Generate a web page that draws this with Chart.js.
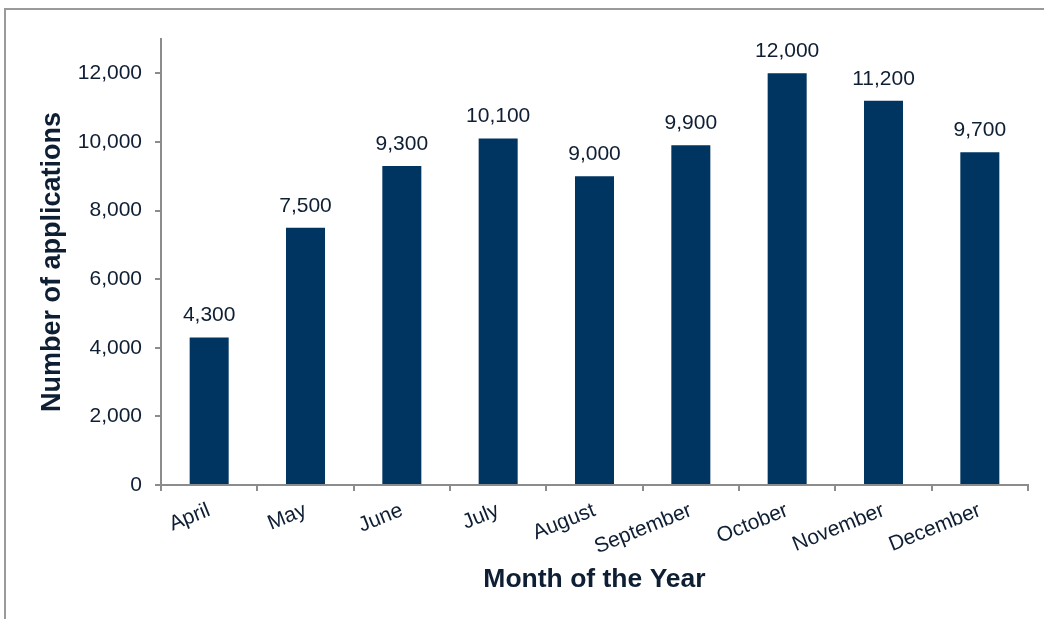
<!DOCTYPE html>
<html>
<head>
<meta charset="utf-8">
<script src="https://cdn.jsdelivr.net/npm/chart.js@4/dist/chart.umd.min.js"></script>
<style>
	body { margin: 0; background: #fff; overflow: hidden; }
	#wrap { position: relative; width: 1044px; height: 619px; }
	#frame {
		position: absolute; left: 4px; top: 8px; width: 1100px; height: 700px;
		border-left: 2px solid #9a9a9a; border-top: 2px solid #9a9a9a;
	}
	canvas { position: absolute; left: 0; top: 0; }
</style>
</head>
<body>
<div id="wrap">
	<div id="frame"></div>
	<canvas id="chart" width="1044" height="619"></canvas>
</div>
<script>
const months = ["April", "May", "June", "July", "August", "September", "October", "November", "December"];
const applications = [4300, 7500, 9300, 10100, 9000, 9900, 12000, 11200, 9700];
const yTicks = [0, 2000, 4000, 6000, 8000, 10000, 12000];

const textColor = "#0e1e33";
const axisColor = "#8c8c8c";
const barColor = "#003461";

Chart.defaults.font.family = '"Liberation Sans", Arial, sans-serif';
Chart.defaults.color = textColor;

// value labels above each bar
const barLabels = {
	id: "barLabels",
	afterDatasetsDraw(chart) {
		let ctx = chart.ctx;
		let meta = chart.getDatasetMeta(0);
		ctx.save();
		ctx.font = '21px "Liberation Sans", Arial, sans-serif';
		ctx.fillStyle = textColor;
		ctx.textAlign = "center";
		ctx.textBaseline = "alphabetic";
		meta.data.forEach((bar, i) => {
			ctx.fillText(applications[i].toLocaleString("en-US"), bar.x, bar.y - 16);
		});
		ctx.restore();
	}
};

let ctx = document.getElementById("chart").getContext("2d");
new Chart(ctx, {
	type: "bar",
	data: {
		labels: months,
		datasets: [{
			data: applications,
			backgroundColor: barColor,
			barPercentage: 0.405,
			categoryPercentage: 1.0
		}]
	},
	options: {
		responsive: false,
		animation: false,
		layout: { padding: { left: 0, right: 16, top: 39, bottom: 0 } },
		plugins: {
			legend: { display: false },
			tooltip: { enabled: false }
		},
		scales: {
			x: {
				grid: { drawOnChartArea: false, color: axisColor, lineWidth: 2, tickLength: 6 },
				border: { color: axisColor, width: 2 },
				ticks: { font: { size: 21 }, color: textColor, minRotation: 22, maxRotation: 22, padding: 7 },
				title: {
					display: true,
					text: "Month of the Year",
					color: textColor,
					font: { size: 26.5, weight: "bold" },
					padding: { top: 0, bottom: 23 }
				},
				afterFit(scale) { scale.height = 134; }
			},
			y: {
				min: 0,
				max: 13000,
				grid: { drawOnChartArea: false, color: axisColor, lineWidth: 2, tickLength: 6 },
				border: { color: axisColor, width: 2 },
				ticks: {
					stepSize: 2000,
					padding: 13,
					font: { size: 21 },
					color: textColor,
					callback: (v) => v.toLocaleString("en-US")
				},
				afterBuildTicks(scale) {
					scale.ticks = yTicks.map((v) => ({ value: v }));
				},
				title: {
					display: true,
					text: "Number of applications",
					color: textColor,
					font: { size: 27, weight: "bold" },
					padding: { top: 36, bottom: 0 }
				},
				afterFit(scale) { scale.width = 161; }
			}
		}
	},
	plugins: [barLabels]
});
</script>
</body>
</html>
